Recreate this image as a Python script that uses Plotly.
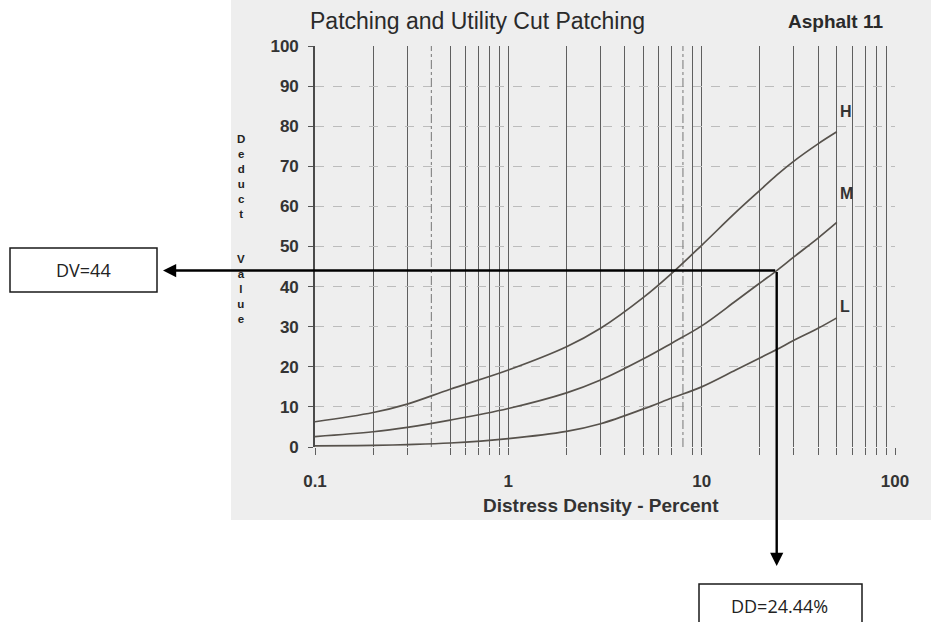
import numpy as np
import plotly.graph_objects as go

# ---- deduct curves (distress density in percent vs deduct value) ----
density = [0.1, 0.2, 0.3, 0.5, 1, 2, 3, 5, 7, 10, 15, 20, 24.44, 30, 40, 50]
dv_high = [6.3, 8.6, 10.7, 14.4, 19.2, 25.0, 29.6, 37.3, 43.3, 50.3, 58.5, 64.0, 67.8, 71.3, 75.6, 78.6]
dv_medium = [2.6, 3.8, 4.9, 6.7, 9.6, 13.5, 16.7, 22.0, 25.9, 30.2, 36.4, 40.9, 44.0, 47.4, 52.1, 56.0]
dv_low = [0.3, 0.4, 0.6, 1.0, 2.1, 3.9, 5.8, 9.5, 12.2, 15.0, 19.2, 22.2, 24.3, 26.6, 29.6, 32.2]

severity_labels = ["H", "M", "L"]

# worked example
example_dd = 24.44
example_dv = 44

# log-axis ticks: every 1..9 multiple per decade, labels only on decades
decades = [0.1, 1, 10, 100]
grid_vals = [m * d for d in [0.1, 1, 10] for m in range(1, 10)] + [100]
dashed_grid = [0.4, 8]
y_ticks = list(range(0, 101, 10))

title_left = "Patching and Utility Cut Patching"
title_right = "Asphalt 11"
x_title = "Distress Density - Percent"
y_title_top = "Deduct"
y_title_bottom = "Value"

# ---- page geometry (pixels) ----
W, H = 931, 622
PX_L, PX_R = 315, 895      # x = 0.1 .. 100
PY_T, PY_B = 46, 447       # y = 100 .. 0
LOG_MIN, LOG_MAX = -1, 2


def fx(px):
    return px / W


def fy(py):
    return 1 - py / H


def px_to_logx(px):
    return LOG_MIN + (LOG_MAX - LOG_MIN) * (px - PX_L) / (PX_R - PX_L)


def py_to_y(py):
    return 100 * (PY_B - py) / (PY_B - PY_T)


FONT = "Liberation Sans"
INK = "#333333"
CURVE = "#57524c"
GRID = "#5f5f5f"

fig = go.Figure()

solid_grid = [v for v in grid_vals if not any(abs(v - d) < 1e-9 for d in dashed_grid)]

# dashed vertical rules
for v in dashed_grid:
    fig.add_trace(go.Scatter(
        x=[v, v], y=[0, 100], mode="lines",
        line=dict(color="#8a8a8a", width=1.2, dash="dashdot"),
        hoverinfo="skip", showlegend=False))

for vals, lab in zip([dv_high, dv_medium, dv_low], severity_labels):
    fig.add_trace(go.Scatter(
        x=density, y=vals, mode="lines", name=lab,
        line=dict(color=CURVE, width=1.7, shape="spline", smoothing=1.0),
        showlegend=False))

annotations = []

# severity labels at the curve ends
label_shift = {"H": 20, "M": 29, "L": 11}
for vals, lab in zip([dv_high, dv_medium, dv_low], severity_labels):
    annotations.append(dict(
        x=np.log10(density[-1]), y=vals[-1], xref="x", yref="y",
        text=f"<b>{lab}</b>", showarrow=False, xanchor="left", yanchor="middle",
        xshift=1, yshift=label_shift[lab],
        font=dict(family=FONT, size=16, color=INK)))

# titles
annotations.append(dict(
    x=fx(308), y=fy(21), xref="paper", yref="paper", text=title_left,
    showarrow=False, xanchor="left", yanchor="middle",
    font=dict(family=FONT, size=23, color="#2a2a2a")))
annotations.append(dict(
    x=fx(885), y=fy(22), xref="paper", yref="paper", text=f"<b>{title_right}</b>",
    showarrow=False, xanchor="right", yanchor="middle",
    font=dict(family=FONT, size=19, color="#2a2a2a")))
annotations.append(dict(
    x=fx(601), y=fy(505), xref="paper", yref="paper", text=f"<b>{x_title}</b>",
    showarrow=False, xanchor="center", yanchor="middle",
    font=dict(family=FONT, size=19, color=INK)))

# stacked vertical y-axis title, one letter per line
annotations.append(dict(
    x=fx(241), y=fy(176), xref="paper", yref="paper",
    text="<b>" + "<br>".join(y_title_top) + "</b>", showarrow=False,
    xanchor="center", yanchor="middle", align="center",
    font=dict(family=FONT, size=11.5, color="#222222")))
annotations.append(dict(
    x=fx(241), y=fy(289), xref="paper", yref="paper",
    text="<b>" + "<br>".join(y_title_bottom) + "</b>", showarrow=False,
    xanchor="center", yanchor="middle", align="center",
    font=dict(family=FONT, size=11.5, color="#222222")))

# example read-out arrows from the point on the medium curve
ex_lx = np.log10(example_dd)
annotations.append(dict(
    x=px_to_logx(163), y=example_dv, xref="x", yref="y",
    ax=ex_lx, ay=example_dv, axref="x", ayref="y",
    text="", showarrow=True, arrowhead=2, arrowsize=1.1, arrowwidth=2.4,
    arrowcolor="#000000", standoff=0, startstandoff=0))
annotations.append(dict(
    x=ex_lx, y=py_to_y(566), xref="x", yref="y",
    ax=ex_lx, ay=example_dv, axref="x", ayref="y",
    text="", showarrow=True, arrowhead=2, arrowsize=1.1, arrowwidth=2.4,
    arrowcolor="#000000", standoff=0, startstandoff=0))

# read-out boxes
annotations.append(dict(
    x=fx(83), y=fy(270), xref="paper", yref="paper", text=f"DV={example_dv}",
    showarrow=False, xanchor="center", yanchor="middle",
    font=dict(family="Open Sans", size=18, color="#222222")))
annotations.append(dict(
    x=fx(779), y=fy(606), xref="paper", yref="paper", text=f"DD={example_dd:.2f}%",
    showarrow=False, xanchor="center", yanchor="middle",
    font=dict(family="Open Sans", size=18, color="#222222")))

shapes = [
    # scanned chart sheet
    dict(type="rect", xref="paper", yref="paper", x0=fx(231), x1=1.0, y0=fy(520), y1=1.0,
         fillcolor="#eeeeee", line=dict(width=0), layer="below"),
    dict(type="rect", xref="paper", yref="paper", x0=fx(10), x1=fx(157), y0=fy(292), y1=fy(248),
         fillcolor="white", line=dict(color="#1a1a1a", width=1.5)),
    dict(type="rect", xref="paper", yref="paper", x0=fx(699), x1=fx(862), y0=fy(640), y1=fy(584),
         fillcolor="white", line=dict(color="#1a1a1a", width=1.5)),
]

fig.update_layout(
    template="none",
    width=W, height=H,
    margin=dict(l=0, r=0, t=0, b=0, autoexpand=False),
    paper_bgcolor="white",
    plot_bgcolor="rgba(0,0,0,0)",
    showlegend=False,
    annotations=annotations,
    shapes=shapes,
    xaxis=dict(
        type="log", range=[LOG_MIN, LOG_MAX], domain=[fx(PX_L), fx(PX_R)],
        automargin=False,
        tickmode="array", tickvals=solid_grid,
        ticktext=[f"<b>{v:g}</b>" if any(abs(v - d) < 1e-9 for d in decades) else "" for v in solid_grid],
        showgrid=True, gridcolor=GRID, gridwidth=1.4,
        ticks="outside", ticklen=7, tickcolor=GRID, tickwidth=1.4,
        ticklabelstandoff=12,
        showline=False, zeroline=False,
        tickfont=dict(family=FONT, size=17, color=INK),
    ),
    yaxis=dict(
        range=[0, 100], domain=[fy(PY_B), fy(PY_T)],
        automargin=False,
        tickmode="array", tickvals=y_ticks, ticktext=[f"<b>{v}</b>" for v in y_ticks],
        showgrid=True, gridcolor="#bcbcbc", gridwidth=1, griddash="dash",
        ticks="outside", ticklen=5, tickcolor="#555555", tickwidth=1.3,
        ticklabelstandoff=6,
        showline=True, linecolor="#4a4a4a", linewidth=1.6,
        zeroline=False,
        tickfont=dict(family=FONT, size=17, color=INK),
    ),
)

fig.write_html("out.html")
